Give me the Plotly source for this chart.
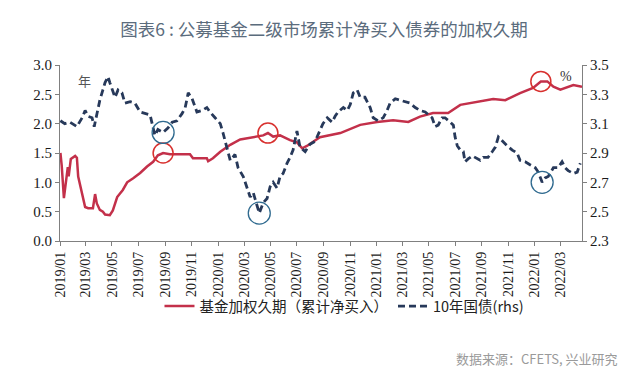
import plotly.graph_objects as go

# ---------------- data ----------------
dur_dates = ["2019-01-02", "2019-01-05", "2019-01-10", "2019-01-19", "2019-01-21", "2019-01-26",
             "2019-02-05", "2019-02-09", "2019-02-12", "2019-02-21", "2019-02-28", "2019-03-07",
             "2019-03-18", "2019-03-23", "2019-03-27", "2019-04-03", "2019-04-10", "2019-04-15",
             "2019-04-26", "2019-05-03", "2019-05-13", "2019-05-26", "2019-06-05", "2019-06-19",
             "2019-07-05", "2019-07-21", "2019-08-04", "2019-08-15", "2019-08-27", "2019-09-12",
             "2019-09-28", "2019-10-28", "2019-11-04", "2019-12-06", "2019-12-09", "2019-12-20",
             "2020-01-06", "2020-01-29", "2020-02-21", "2020-03-22", "2020-04-14", "2020-04-25",
             "2020-05-07", "2020-05-23", "2020-06-15", "2020-07-01", "2020-07-13", "2020-07-24",
             "2020-08-07", "2020-08-23", "2020-10-09", "2020-11-24", "2021-01-02", "2021-02-08",
             "2021-03-15", "2021-04-11", "2021-05-11", "2021-06-15", "2021-07-13", "2021-08-21",
             "2021-09-27", "2021-10-25", "2021-11-28", "2021-12-28", "2022-01-15", "2022-01-30",
             "2022-02-13", "2022-03-01", "2022-03-31", "2022-04-20"]
dur_vals = [1.50, 1.28, 0.73, 1.26, 1.10, 1.40,
            1.45, 1.42, 1.10, 0.82, 0.58, 0.56,
            0.56, 0.80, 0.64, 0.53, 0.50, 0.45,
            0.44, 0.52, 0.75, 0.87, 1.00, 1.07,
            1.16, 1.27, 1.35, 1.46, 1.50, 1.48,
            1.48, 1.48, 1.41, 1.41, 1.36, 1.41,
            1.52, 1.64, 1.73, 1.77, 1.80, 1.84,
            1.78, 1.80, 1.72, 1.68, 1.58, 1.62,
            1.69, 1.77, 1.84, 1.98, 2.03, 2.06,
            2.03, 2.12, 2.18, 2.18, 2.32, 2.37,
            2.42, 2.40, 2.52, 2.61, 2.72, 2.72,
            2.63, 2.58, 2.66, 2.63]

cgb_dates = ["2019-01-02", "2019-01-12", "2019-01-24", "2019-02-09", "2019-02-21", "2019-02-28",
             "2019-03-07", "2019-03-16", "2019-03-21", "2019-03-27", "2019-04-03", "2019-04-10",
             "2019-04-15", "2019-04-22", "2019-04-26", "2019-05-08", "2019-05-15", "2019-05-24",
             "2019-05-31", "2019-06-12", "2019-06-23", "2019-07-05", "2019-07-16", "2019-07-28",
             "2019-08-08", "2019-08-15", "2019-08-27", "2019-09-07", "2019-09-17", "2019-09-28",
             "2019-10-10", "2019-10-17", "2019-10-24", "2019-11-02", "2019-11-13", "2019-11-25",
             "2019-12-06", "2019-12-13", "2019-12-25", "2020-01-06", "2020-01-12", "2020-01-29",
             "2020-02-09", "2020-02-16", "2020-02-28", "2020-03-08", "2020-03-15", "2020-03-22",
             "2020-03-31", "2020-04-05", "2020-04-14", "2020-04-23", "2020-04-30", "2020-05-07",
             "2020-05-16", "2020-05-23", "2020-05-30", "2020-06-08", "2020-06-15", "2020-06-22",
             "2020-07-01", "2020-07-08", "2020-07-20", "2020-07-31", "2020-08-12", "2020-08-23",
             "2020-08-30", "2020-09-09", "2020-09-20", "2020-09-27", "2020-10-04", "2020-10-16",
             "2020-10-25", "2020-11-01", "2020-11-08", "2020-11-17", "2020-11-24", "2020-12-05",
             "2020-12-17", "2020-12-24", "2021-01-04", "2021-01-16", "2021-01-25", "2021-02-01",
             "2021-02-13", "2021-02-24", "2021-03-08", "2021-03-19", "2021-03-31", "2021-04-11",
             "2021-04-23", "2021-05-09", "2021-05-16", "2021-05-23", "2021-06-01", "2021-06-08",
             "2021-06-20", "2021-06-27", "2021-07-01", "2021-07-06", "2021-07-13", "2021-07-20",
             "2021-07-24", "2021-07-31", "2021-08-10", "2021-08-21", "2021-08-28", "2021-09-04",
             "2021-09-15", "2021-09-25", "2021-10-02", "2021-10-09", "2021-10-18", "2021-10-29",
             "2021-11-10", "2021-11-21", "2021-11-28", "2021-12-10", "2021-12-21", "2022-01-02",
             "2022-01-09", "2022-01-18", "2022-01-25", "2022-02-01", "2022-02-13", "2022-02-24",
             "2022-03-05", "2022-03-12", "2022-03-19", "2022-03-31", "2022-04-09", "2022-04-16"]
cgb_vals = [3.12, 3.10, 3.11, 3.08, 3.14, 3.19,
            3.15, 3.14, 3.08, 3.17, 3.26, 3.33,
            3.38, 3.42, 3.38, 3.28, 3.33, 3.31,
            3.24, 3.25, 3.24, 3.18, 3.17, 3.16,
            3.02, 3.06, 3.04, 3.07, 3.11, 3.12,
            3.17, 3.21, 3.31, 3.27, 3.18, 3.19,
            3.21, 3.18, 3.14, 3.10, 3.04, 2.85,
            2.89, 2.80, 2.74, 2.66, 2.60, 2.63,
            2.53, 2.49, 2.56, 2.59, 2.67, 2.70,
            2.66, 2.74, 2.76, 2.83, 2.87, 2.92,
            3.05, 2.94, 2.91, 2.96, 2.98, 3.06,
            3.10, 3.14, 3.11, 3.15, 3.18, 3.21,
            3.19, 3.23, 3.31, 3.33, 3.28, 3.28,
            3.21, 3.14, 3.12, 3.14, 3.19, 3.24,
            3.27, 3.26, 3.25, 3.24, 3.21, 3.19,
            3.18, 3.14, 3.08, 3.09, 3.14, 3.14,
            3.11, 3.09, 3.01, 2.95, 2.92, 2.91,
            2.84, 2.86, 2.88, 2.86, 2.85, 2.87,
            2.87, 2.91, 2.94, 3.01, 2.98, 2.95,
            2.92, 2.90, 2.85, 2.84, 2.82, 2.80,
            2.77, 2.70, 2.73, 2.74, 2.80, 2.80,
            2.84, 2.80, 2.78, 2.76, 2.77, 2.83]

# highlighted points (circled in the original)
dur_highlight_dates = ["2019-08-27", "2020-04-25", "2022-01-15"]
cgb_highlight_dates = ["2019-08-27", "2020-04-05", "2022-01-18"]

left_ticks = [0.0, 0.5, 1.0, 1.5, 2.0, 2.5, 3.0]
right_ticks = [2.3, 2.5, 2.7, 2.9, 3.1, 3.3, 3.5]

title_text = "图表6 : 公募基金二级市场累计净买入债券的加权久期"
name_dur = "基金加权久期（累计净买入）"
name_cgb = "10年国债(rhs)"
source_text = "数据来源：CFETS, 兴业研究"

# ---------------- figure ----------------
RED = "#C3304A"
NAVY = "#27395A"
AXIS = "#808080"
SERIF = "Liberation Serif"
CJK = "Noto Sans CJK SC"

fig = go.Figure()
fig.add_trace(go.Scatter(x=dur_dates, y=dur_vals, name=name_dur, mode="lines",
                         line=dict(color=RED, width=2.5), yaxis="y"))
fig.add_trace(go.Scatter(x=cgb_dates, y=cgb_vals, name=name_cgb, mode="lines",
                         line=dict(color=NAVY, width=2.8, dash="7px,4px"), yaxis="y2"))

shapes = []
dur_map = dict(zip(dur_dates, dur_vals))
cgb_map = dict(zip(cgb_dates, cgb_vals))
for d in dur_highlight_dates:
    shapes.append(dict(type="circle", xref="x", yref="y", xsizemode="pixel", ysizemode="pixel",
                       xanchor=d, yanchor=dur_map[d], x0=-10, x1=10, y0=-10, y1=10,
                       line=dict(color="#D8302E", width=1.5)))
for d in cgb_highlight_dates:
    shapes.append(dict(type="circle", xref="x", yref="y2", xsizemode="pixel", ysizemode="pixel",
                       xanchor=d, yanchor=cgb_map[d], x0=-11, x1=11, y0=-11, y1=11,
                       line=dict(color="#2F6A8F", width=1.3)))

tickfont = dict(family=SERIF, size=14, color="#1a1a1a")
# the page body keeps the browser's default 8px margin, so the figure is 8px smaller
fig.update_layout(
    width=632, height=365,
    margin=dict(l=52, r=58, t=57, b=132),
    paper_bgcolor="white", plot_bgcolor="white",
    title=dict(text=title_text, x=0.5, xanchor="center", y=0.94, yanchor="middle",
               font=dict(family=CJK, size=17.5, color="#5B6C7D")),
    xaxis=dict(type="date", range=["2019-01-01", "2022-04-20"], tick0="2019-01-01", dtick="M2",
               tickformat="%Y/%m", tickangle=-90, showgrid=False, zeroline=False,
               showline=True, linecolor=AXIS, linewidth=1.2, ticks="outside", ticklen=4,
               tickcolor=AXIS, tickfont=tickfont, automargin=False),
    yaxis=dict(range=[0, 3], tickvals=left_ticks, tickformat=".1f", showgrid=False, zeroline=False,
               showline=True, linecolor=AXIS, linewidth=1.2, ticks="outside", ticklen=4,
               tickcolor=AXIS, tickfont=dict(family=SERIF, size=15, color="#1a1a1a"),
               automargin=False),
    yaxis2=dict(range=[2.3, 3.5], tickvals=right_ticks, tickformat=".1f", overlaying="y",
                side="right", showgrid=False, zeroline=False, showline=True, linecolor=AXIS,
                linewidth=1.2, ticks="outside", ticklen=4, tickcolor=AXIS,
                tickfont=dict(family=SERIF, size=15, color="#1a1a1a"), automargin=False),
    legend=dict(orientation="h", x=0.545, xanchor="center", y=-0.37, yanchor="middle",
                font=dict(family=CJK, size=14.5, color="#222"), bgcolor="rgba(0,0,0,0)"),
    shapes=shapes,
    annotations=[
        dict(text="年", xref="paper", yref="paper", x=0.03, y=0.975, showarrow=False,
             font=dict(family=CJK, size=13, color="#555")),
        dict(text="%", xref="paper", yref="paper", x=0.985, y=0.99, showarrow=False,
             font=dict(family=SERIF, size=14, color="#333")),
        dict(text=source_text, xref="paper", yref="paper", x=1.073, y=-0.665, xanchor="right",
             yanchor="middle", showarrow=False, font=dict(family=CJK, size=13, color="#9A9A9A")),
    ],
)

fig.write_html("out.html")
